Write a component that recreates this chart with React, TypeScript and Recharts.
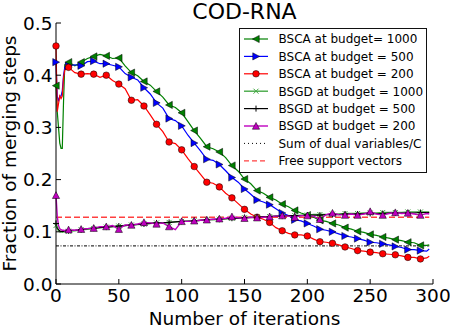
import React from 'react';
import { LineChart, Line, XAxis, YAxis, Legend, ReferenceLine, Label } from 'recharts';

// iteration grid (markers drawn on every 10th iteration)
const iterations = [
  0, 1, 2, 3, 4, 5, 6, 7, 8,
  10, 15, 20, 25, 30, 35, 40, 45, 50, 55,
  60, 65, 70, 75, 80, 85, 90, 95, 100, 105,
  110, 115, 120, 125, 130, 135, 140, 145, 150, 155,
  160, 165, 170, 175, 180, 185, 190, 195, 200, 205,
  210, 215, 220, 225, 230, 235, 240, 245, 250, 255,
  260, 265, 270, 275, 280, 285, 290, 295, 297,
];

const bsca1000 = [
  0.38, 0.33, 0.30, 0.27, 0.26, 0.26, 0.35, 0.42, 0.422,
  0.425, 0.418, 0.425, 0.432, 0.436, 0.44, 0.437, 0.432, 0.433, 0.418,
  0.405, 0.399, 0.388, 0.381, 0.369, 0.358, 0.343, 0.338, 0.328, 0.311,
  0.294, 0.279, 0.263, 0.259, 0.253, 0.242, 0.227, 0.216, 0.201, 0.192,
  0.179, 0.174, 0.166, 0.161, 0.153, 0.148, 0.141, 0.136, 0.132, 0.128,
  0.122, 0.12, 0.116, 0.113, 0.108, 0.105, 0.101, 0.099, 0.095, 0.093,
  0.09, 0.088, 0.085, 0.083, 0.08, 0.079, 0.074, 0.074, 0.075,
];

const bsca500 = [
  0.425, 0.36, 0.35, 0.36, 0.36, 0.37, 0.40, 0.415, 0.418,
  0.418, 0.42, 0.418, 0.426, 0.427, 0.422, 0.422, 0.419, 0.416, 0.403,
  0.396, 0.391, 0.376, 0.364, 0.347, 0.337, 0.317, 0.313, 0.303, 0.285,
  0.27, 0.255, 0.239, 0.237, 0.229, 0.217, 0.204, 0.195, 0.182, 0.172,
  0.161, 0.157, 0.152, 0.144, 0.136, 0.131, 0.123, 0.121, 0.116, 0.111,
  0.105, 0.103, 0.1, 0.096, 0.092, 0.09, 0.087, 0.084, 0.08, 0.079,
  0.077, 0.075, 0.072, 0.07, 0.066, 0.066, 0.064, 0.063, 0.067,
];

const bsca200 = [
  0.456, 0.33, 0.345, 0.36, 0.355, 0.36, 0.395, 0.41, 0.412,
  0.415, 0.405, 0.402, 0.403, 0.402, 0.396, 0.4, 0.39, 0.383, 0.374,
  0.352, 0.353, 0.341, 0.324, 0.306, 0.292, 0.272, 0.269, 0.257, 0.24,
  0.225, 0.21, 0.195, 0.193, 0.186, 0.174, 0.165, 0.154, 0.143, 0.134,
  0.128, 0.124, 0.118, 0.108, 0.102, 0.097, 0.094, 0.094, 0.092, 0.086,
  0.081, 0.08, 0.078, 0.075, 0.071, 0.068, 0.064, 0.063, 0.061, 0.06,
  0.058, 0.057, 0.056, 0.054, 0.051, 0.051, 0.048, 0.05, 0.053,
];

const bsgd1000 = [
  0.112, 0.106, 0.102, 0.1, 0.1, 0.099, 0.1, 0.1, 0.101,
  0.101, 0.102, 0.104, 0.105, 0.106, 0.108, 0.109, 0.11, 0.111, 0.112,
  0.113, 0.114, 0.115, 0.116, 0.117, 0.117, 0.118, 0.119, 0.12, 0.121,
  0.121, 0.122, 0.123, 0.123, 0.124, 0.125, 0.126, 0.126, 0.127, 0.128,
  0.128, 0.129, 0.129, 0.13, 0.13, 0.131, 0.131, 0.132, 0.132, 0.133,
  0.133, 0.133, 0.134, 0.134, 0.135, 0.135, 0.135, 0.136, 0.136, 0.136,
  0.137, 0.137, 0.137, 0.137, 0.138, 0.138, 0.138, 0.138, 0.138,
];

const bsgd500 = [
  0.116, 0.108, 0.104, 0.102, 0.101, 0.101, 0.101, 0.102, 0.102,
  0.102, 0.103, 0.104, 0.106, 0.107, 0.108, 0.109, 0.11, 0.111, 0.112,
  0.113, 0.114, 0.115, 0.116, 0.117, 0.117, 0.118, 0.119, 0.12, 0.12,
  0.121, 0.122, 0.123, 0.124, 0.124, 0.125, 0.126, 0.126, 0.127, 0.127,
  0.128, 0.129, 0.129, 0.13, 0.13, 0.131, 0.131, 0.131, 0.132, 0.132,
  0.132, 0.133, 0.133, 0.133, 0.134, 0.134, 0.134, 0.135, 0.135, 0.135,
  0.135, 0.136, 0.136, 0.136, 0.136, 0.136, 0.137, 0.137, 0.137,
];

const bsgd200 = [
  0.17, 0.13, 0.112, 0.106, 0.104, 0.103, 0.103, 0.102, 0.104,
  0.104, 0.103, 0.105, 0.106, 0.107, 0.11, 0.11, 0.112, 0.105, 0.113,
  0.113, 0.115, 0.118, 0.117, 0.115, 0.117, 0.11, 0.104, 0.12, 0.12,
  0.121, 0.122, 0.123, 0.124, 0.125, 0.126, 0.129, 0.127, 0.126, 0.128,
  0.127, 0.128, 0.129, 0.13, 0.131, 0.13, 0.128, 0.131, 0.131, 0.13,
  0.124, 0.133, 0.136, 0.133, 0.132, 0.134, 0.132, 0.134, 0.139, 0.134,
  0.132, 0.135, 0.137, 0.135, 0.136, 0.134, 0.132, 0.135, 0.134,
];

const dualSumLevel = 0.073;
const freeSvLevel = 0.128;
const levelEnd = 297;

const xTicks = [0, 50, 100, 150, 200, 250, 300];
const yTicks = [0, 0.1, 0.2, 0.3, 0.4, 0.5];

const data = iterations.map((x, i) => ({
  x,
  bsca1000: bsca1000[i],
  bsca500: bsca500[i],
  bsca200: bsca200[i],
  bsgd1000: bsgd1000[i],
  bsgd500: bsgd500[i],
  bsgd200: bsgd200[i],
}));

const FONT = '"DejaVu Sans", sans-serif';

type Shape = 'left' | 'right' | 'circle' | 'x' | 'plus' | 'up' | 'none';

function Marker({ shape, cx, cy, color }: { shape: Shape; cx: number; cy: number; color: string }) {
  const r = 3.6;
  switch (shape) {
    case 'left':
      return <polygon points={`${cx - r},${cy} ${cx + r * 0.9},${cy - r} ${cx + r * 0.9},${cy + r}`} fill={color} stroke="#000" strokeWidth={0.5} />;
    case 'right':
      return <polygon points={`${cx + r},${cy} ${cx - r * 0.9},${cy - r} ${cx - r * 0.9},${cy + r}`} fill={color} stroke="#000" strokeWidth={0.5} />;
    case 'up':
      return <polygon points={`${cx},${cy - r} ${cx - r},${cy + r * 0.9} ${cx + r},${cy + r * 0.9}`} fill={color} stroke="#000" strokeWidth={0.5} />;
    case 'circle':
      return <circle cx={cx} cy={cy} r={3.3} fill={color} stroke="#000" strokeWidth={0.5} />;
    case 'x':
      return (
        <g stroke={color} strokeWidth={1}>
          <line x1={cx - 2.5} y1={cy - 2.5} x2={cx + 2.5} y2={cy + 2.5} />
          <line x1={cx - 2.5} y1={cy + 2.5} x2={cx + 2.5} y2={cy - 2.5} />
        </g>
      );
    case 'plus':
      return (
        <g stroke={color} strokeWidth={1}>
          <line x1={cx - 3} y1={cy} x2={cx + 3} y2={cy} />
          <line x1={cx} y1={cy - 3} x2={cx} y2={cy + 3} />
        </g>
      );
    default:
      return null;
  }
}

const everyTenth = (shape: Shape, color: string) => (props: any) => {
  const { cx, cy, payload, index } = props;
  if (cx == null || cy == null || payload.x % 10 !== 0) return <g key={`d-${index}`} />;
  return (
    <g key={`d-${index}`}>
      <Marker shape={shape} cx={cx} cy={cy} color={color} />
    </g>
  );
};

const series = [
  { key: 'bsca1000', name: 'BSCA at budget= 1000', color: '#008000', shape: 'left' as Shape, width: 1.2 },
  { key: 'bsca500', name: 'BSCA at budget = 500', color: '#0000ff', shape: 'right' as Shape, width: 1.2 },
  { key: 'bsca200', name: 'BSCA at budget = 200', color: '#ff0000', shape: 'circle' as Shape, width: 1.2 },
  { key: 'bsgd1000', name: 'BSGD at budget = 1000', color: '#44a844', shape: 'x' as Shape, width: 1.4 },
  { key: 'bsgd500', name: 'BSGD at budget = 500', color: '#000000', shape: 'plus' as Shape, width: 1.2 },
  { key: 'bsgd200', name: 'BSGD at budget = 200', color: '#bf00bf', shape: 'up' as Shape, width: 1.4 },
];

const legendRows = [
  ...series.map((s) => ({ name: s.name, color: s.color, shape: s.shape, dash: undefined as string | undefined, width: s.width })),
  { name: 'Sum of dual variables/C', color: '#000000', shape: 'none' as Shape, dash: '1 3', width: 1 },
  { name: 'Free support vectors', color: '#ff4040', shape: 'none' as Shape, dash: '5 3', width: 1.3 },
];

function LegendBox() {
  return (
    <svg width={188} height={145} style={{ display: 'block', fontFamily: FONT }}>
      <rect x={0.5} y={0.5} width={187} height={144} fill="#fff" stroke="#111" strokeWidth={1} />
      {legendRows.map((row, i) => {
        const cy = 11 + i * 17.4;
        return (
          <g key={row.name}>
            <line x1={5} x2={29} y1={cy} y2={cy} stroke={row.color} strokeWidth={row.width} strokeDasharray={row.dash} />
            <Marker shape={row.shape} cx={17} cy={cy} color={row.color} />
            <text x={39.5} y={cy + 4.4} fontSize={12} fill="#000">{row.name}</text>
          </g>
        );
      })}
    </svg>
  );
}

const BottomTick = (props: any) => {
  const { x, y, payload } = props;
  return (
    <g>
      <line x1={x} x2={x} y1={y} y2={y - 5} stroke="#000" />
      <text x={x} y={y + 18.4} textAnchor="middle" fontSize={18.5} fill="#000" fontFamily={FONT}>{payload.value}</text>
    </g>
  );
};

const TopTick = (props: any) => {
  const { x, y } = props;
  return <line x1={x} x2={x} y1={y} y2={y + 5} stroke="#000" />;
};

const LeftTick = (props: any) => {
  const { x, y, payload } = props;
  return (
    <g>
      <line x1={x} x2={x + 5} y1={y} y2={y} stroke="#000" />
      <text x={x - 3.5} y={y + 6.6} textAnchor="end" fontSize={18.5} fill="#000" fontFamily={FONT}>{Number(payload.value).toFixed(1)}</text>
    </g>
  );
};

const RightTick = (props: any) => {
  const { x, y } = props;
  return <line x1={x} x2={x - 5} y1={y} y2={y} stroke="#000" />;
};

export default function App() {
  return (
    <div style={{ position: 'absolute', left: 0, top: 0, width: 450, height: 328, background: '#fff' }}>
      <LineChart
        width={450}
        height={328}
        data={data}
        margin={{ top: 23, right: 17, left: 0, bottom: 0 }}
        style={{ fontFamily: FONT }}
      >
        <XAxis
          dataKey="x"
          type="number"
          domain={[0, 300]}
          ticks={xTicks}
          interval={0}
          height={44}
          tickSize={0}
          tickMargin={0}
          tickLine={false}
          tick={<BottomTick />}
          axisLine={{ stroke: '#000', strokeWidth: 1 }}
        >
          <Label
            content={() => (
              <g>
                <text x={244.5} y={19} textAnchor="middle" fontSize={22} fill="#000" fontFamily={FONT}>COD-RNA</text>
                <text x={244.5} y={324.5} textAnchor="middle" fontSize={18.5} fill="#000" fontFamily={FONT}>Number of iterations</text>
              </g>
            )}
          />
        </XAxis>
        <XAxis
          xAxisId="top"
          orientation="top"
          type="number"
          domain={[0, 300]}
          ticks={xTicks}
          interval={0}
          height={0}
          tickSize={0}
          tickMargin={0}
          tickLine={false}
          tick={<TopTick />}
          axisLine={{ stroke: '#000', strokeWidth: 1 }}
        />
        <YAxis
          type="number"
          domain={[0, 0.5]}
          ticks={yTicks}
          interval={0}
          width={56}
          tickSize={0}
          tickMargin={0}
          tickLine={false}
          tick={<LeftTick />}
          axisLine={{ stroke: '#000', strokeWidth: 1 }}
        >
          <Label
            content={() => (
              <text
                x={16}
                y={153.5}
                textAnchor="middle"
                fontSize={18.5}
                fill="#000"
                fontFamily={FONT}
                transform="rotate(-90 16 153.5)"
              >
                Fraction of merging steps
              </text>
            )}
          />
        </YAxis>
        <YAxis
          yAxisId="right"
          orientation="right"
          type="number"
          domain={[0, 0.5]}
          ticks={yTicks}
          interval={0}
          width={0}
          tickSize={0}
          tickMargin={0}
          tickLine={false}
          tick={<RightTick />}
          axisLine={{ stroke: '#000', strokeWidth: 1 }}
        />
        <ReferenceLine
          segment={[{ x: 0, y: dualSumLevel }, { x: levelEnd, y: dualSumLevel }]}
          stroke="#000"
          strokeWidth={1}
          strokeDasharray="3 1.5 1 1.5"
        />
        <ReferenceLine
          segment={[{ x: 0, y: freeSvLevel }, { x: levelEnd, y: freeSvLevel }]}
          stroke="#ff4040"
          strokeWidth={1.5}
          strokeDasharray="6 3"
        />
        {series.map((s) => (
          <Line
            key={s.key}
            dataKey={s.key}
            name={s.name}
            type="linear"
            stroke={s.color}
            strokeWidth={s.width}
            dot={everyTenth(s.shape, s.color)}
            activeDot={false}
            isAnimationActive={false}
          />
        ))}
        <Legend
          layout="vertical"
          align="center"
          verticalAlign="middle"
          wrapperStyle={{ left: 239, top: 28, width: 188, height: 145 }}
          content={() => <LegendBox />}
        />
      </LineChart>
    </div>
  );
}
